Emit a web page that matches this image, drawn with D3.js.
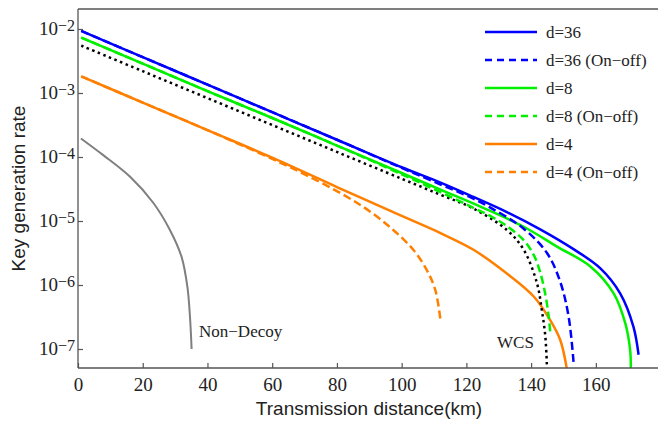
<!DOCTYPE html>
<html>
<head>
<meta charset="utf-8">
<script src="https://cdn.jsdelivr.net/npm/d3@7"></script>
<style>
  html, body { margin: 0; padding: 0; background: #fff; }
  svg { display: block; }
</style>
</head>
<body>
<svg id="chart" width="658" height="422"></svg>
<script>
// ---------------- data ----------------
const xTicks = [0, 20, 40, 60, 80, 100, 120, 140, 160];
const yTickExps = [-2, -3, -4, -5, -6, -7];

const d36Km   = [1, 20, 40, 60, 80, 100, 112, 122, 132.5, 142.8, 153.1, 161.4, 167.5, 171.6, 173.2];
const d36Rate = [9.33e-3, 3.63e-3, 1.35e-3, 5.01e-4, 1.86e-4, 6.92e-5, 3.98e-5, 2.40e-5, 1.38e-5, 7.41e-6, 3.63e-6, 1.82e-6, 7.41e-7, 2.24e-7, 8.13e-8];

const d36OnKm   = [1, 20, 40, 60, 80, 100, 112, 120, 127.4, 137.7, 144.9, 149, 151.6, 153.1];
const d36OnRate = [9.33e-3, 3.63e-3, 1.35e-3, 5.01e-4, 1.86e-4, 6.76e-5, 3.72e-5, 2.51e-5, 1.62e-5, 7.59e-6, 3.16e-6, 1.12e-6, 3.16e-7, 6.31e-8];

const d8Km   = [1, 20, 40, 60, 80, 100, 112, 125, 137.7, 148, 158.3, 165.5, 169.1, 170.6, 170.8];
const d8Rate = [7.33e-3, 2.88e-3, 1.07e-3, 4.07e-4, 1.51e-4, 5.62e-5, 3.09e-5, 1.62e-5, 8.13e-6, 3.98e-6, 1.95e-6, 7.41e-7, 2.51e-7, 9.55e-8, 5.01e-8];

const d8OnKm   = [1, 20, 40, 60, 80, 100, 112, 122, 128, 132.5, 137.7, 140.8, 142.8, 144.4, 145.4, 145.9];
const d8OnRate = [7.33e-3, 2.88e-3, 1.07e-3, 4.07e-4, 1.51e-4, 5.37e-5, 2.82e-5, 1.62e-5, 1.15e-5, 8.32e-6, 5.01e-6, 2.95e-6, 1.58e-6, 7.08e-7, 3.31e-7, 1.86e-7];

const d4Km   = [1, 20, 40, 60, 80, 100, 112, 122.2, 132.5, 140.8, 145.9, 149, 151];
const d4Rate = [1.82e-3, 7.08e-4, 2.63e-4, 9.77e-5, 3.39e-5, 1.20e-5, 6.46e-6, 3.55e-6, 1.51e-6, 6.61e-7, 2.82e-7, 1.38e-7, 5.01e-8];

const d4OnKm   = [1, 20, 40, 60, 70, 82, 90.2, 97.4, 103.6, 107.8, 110.4, 112];
const d4OnRate = [1.82e-3, 7.08e-4, 2.63e-4, 9.33e-5, 5.37e-5, 2.57e-5, 1.41e-5, 7.24e-6, 3.55e-6, 1.70e-6, 8.32e-7, 2.82e-7];

const wcsKm   = [1, 20, 40, 60, 80, 100, 112, 122, 132.5, 137.7, 141.8, 143.3, 144.4, 144.9];
const wcsRate = [5.50e-3, 2.19e-3, 8.32e-4, 3.16e-4, 1.20e-4, 4.57e-5, 2.57e-5, 1.58e-5, 7.24e-6, 3.55e-6, 1.07e-6, 4.07e-7, 1.55e-7, 5.01e-8];

const nonDecoyKm   = [0.9, 7.8, 16.1, 23.3, 28.4, 32, 33.8, 34.6, 35.1];
const nonDecoyRate = [1.95e-4, 1.07e-4, 4.90e-5, 1.91e-5, 7.24e-6, 2.75e-6, 9.33e-7, 3.16e-7, 1.00e-7];

const seriesNames  = ["d=36", "d=36 (On\u2212off)", "d=8", "d=8 (On\u2212off)", "d=4", "d=4 (On\u2212off)"];
const seriesColors = ["#0000ff", "#0000ff", "#00f000", "#00f000", "#ff7f00", "#ff7f00"];
const seriesDashed = [false, true, false, true, false, true];

// ---------------- layout ----------------
const SERIF = '"Liberation Serif", "Times New Roman"';
const SANS  = '"Liberation Sans", Arial';

const svg = d3.select("#chart");
const L = 78, R = 658, T = 9, B = 368;

const x = d3.scaleLinear().domain([0, 179.2]).range([L, R]);
const y = d3.scaleLog().domain([Math.pow(10, -7.297), Math.pow(10, -1.6875)]).range([B, T]);

svg.append("defs").append("clipPath").attr("id", "clip")
  .append("rect").attr("x", L).attr("y", T).attr("width", R - L).attr("height", B - T);

const plot = svg.append("g").attr("clip-path", "url(#clip)");

const line = d3.line()
  .x(d => x(d[0]))
  .y(d => y(d[1]))
  .curve(d3.curveCatmullRom.alpha(0.5));

function draw(km, rate, color, width, dash) {
  const pts = km.map((k, i) => [k, rate[i]]);
  plot.append("path")
    .datum(pts)
    .attr("d", line)
    .attr("fill", "none")
    .attr("stroke", color)
    .attr("stroke-width", width)
    .attr("stroke-dasharray", dash || null);
}

const DASH = "8,4";
draw(nonDecoyKm, nonDecoyRate, "#7f7f7f", 2, null);
draw(d4OnKm, d4OnRate, seriesColors[5], 2.5, DASH);
draw(d4Km, d4Rate, seriesColors[4], 2.5, null);
draw(wcsKm, wcsRate, "#000", 2.5, "2.5,3.5");
draw(d8OnKm, d8OnRate, seriesColors[3], 2.5, DASH);
draw(d8Km, d8Rate, seriesColors[2], 2.5, null);
draw(d36OnKm, d36OnRate, seriesColors[1], 2.5, DASH);
draw(d36Km, d36Rate, seriesColors[0], 2.5, null);

// ---------------- frame & axes ----------------
const axisColor = "#555";
svg.append("line").attr("x1", L).attr("x2", R).attr("y1", T).attr("y2", T)
  .attr("stroke", axisColor).attr("stroke-width", 1.3);

const xAxis = svg.append("g").attr("transform", `translate(0,${B})`)
  .call(d3.axisBottom(x).tickValues(xTicks).tickSizeInner(-5).tickSizeOuter(0).tickPadding(10).tickFormat(d3.format("d")));
xAxis.attr("font-family", SERIF).attr("font-size", 19);
xAxis.select(".domain").attr("stroke", axisColor).attr("stroke-width", 1.3).attr("d", `M${L},0H${R}`);
xAxis.selectAll(".tick line").attr("stroke", axisColor).attr("stroke-width", 1.2);
xAxis.selectAll(".tick text")
  .style("font-family", SERIF)
  .style("font-size", "19px").attr("fill", "#222");

const yAxis = svg.append("g").attr("transform", `translate(${L},0)`)
  .call(d3.axisLeft(y).tickValues(yTickExps.map(e => Math.pow(10, e))).tickSizeInner(-5).tickSizeOuter(0).tickFormat(""));
yAxis.select(".domain").attr("stroke", axisColor).attr("stroke-width", 1.3).attr("d", `M0,${T}V${B}`);
yAxis.selectAll(".tick line").attr("stroke", axisColor).attr("stroke-width", 1.2);

const yLab = svg.append("g").attr("font-family", SERIF);
yTickExps.forEach(e => {
  const t = yLab.append("text")
    .style("font-family", SERIF)
    .attr("x", L - 3).attr("y", y(Math.pow(10, e)) + 6)
    .attr("text-anchor", "end")
    .attr("fill", "#222");
  t.append("tspan").style("font-family", SERIF).style("font-size", "19px").text("10");
  t.append("tspan").style("font-family", SERIF).style("font-size", "16px").attr("dy", -4).text("\u2212" + Math.abs(e));
});

// axis titles
svg.append("text")
  .style("font-family", SANS)
  .attr("x", 369).attr("y", 415)
  .attr("text-anchor", "middle")
  .style("font-size", "19px").attr("fill", "#222")
  .text("Transmission distance(km)");

svg.append("text")
  .style("font-family", SANS)
  .attr("transform", `translate(25,${(T + B) / 2}) rotate(-90)`)
  .attr("text-anchor", "middle")
  .style("font-size", "19px").attr("fill", "#222")
  .text("Key generation rate");

// in-plot labels
svg.append("text").style("font-family", SERIF).attr("x", 199).attr("y", 336.5)
  .style("font-size", "17px").attr("fill", "#222").text("Non\u2212Decoy");
svg.append("text").style("font-family", SERIF).attr("x", 497).attr("y", 348)
  .style("font-size", "17px").attr("fill", "#222").text("WCS");

// ---------------- legend ----------------
const leg = svg.append("g").attr("font-family", SERIF);
seriesNames.forEach((name, i) => {
  const yy = 32 + i * 28;
  leg.append("line")
    .attr("x1", 485).attr("x2", 537).attr("y1", yy).attr("y2", yy)
    .attr("stroke", seriesColors[i]).attr("stroke-width", 2.5)
    .attr("stroke-dasharray", seriesDashed[i] ? "7,5" : null);
  leg.append("text")
    .style("font-family", SERIF)
    .attr("x", 546).attr("y", yy + 6)
    .style("font-size", "17px").attr("fill", "#222")
    .text(name);
});
</script>
</body>
</html>
